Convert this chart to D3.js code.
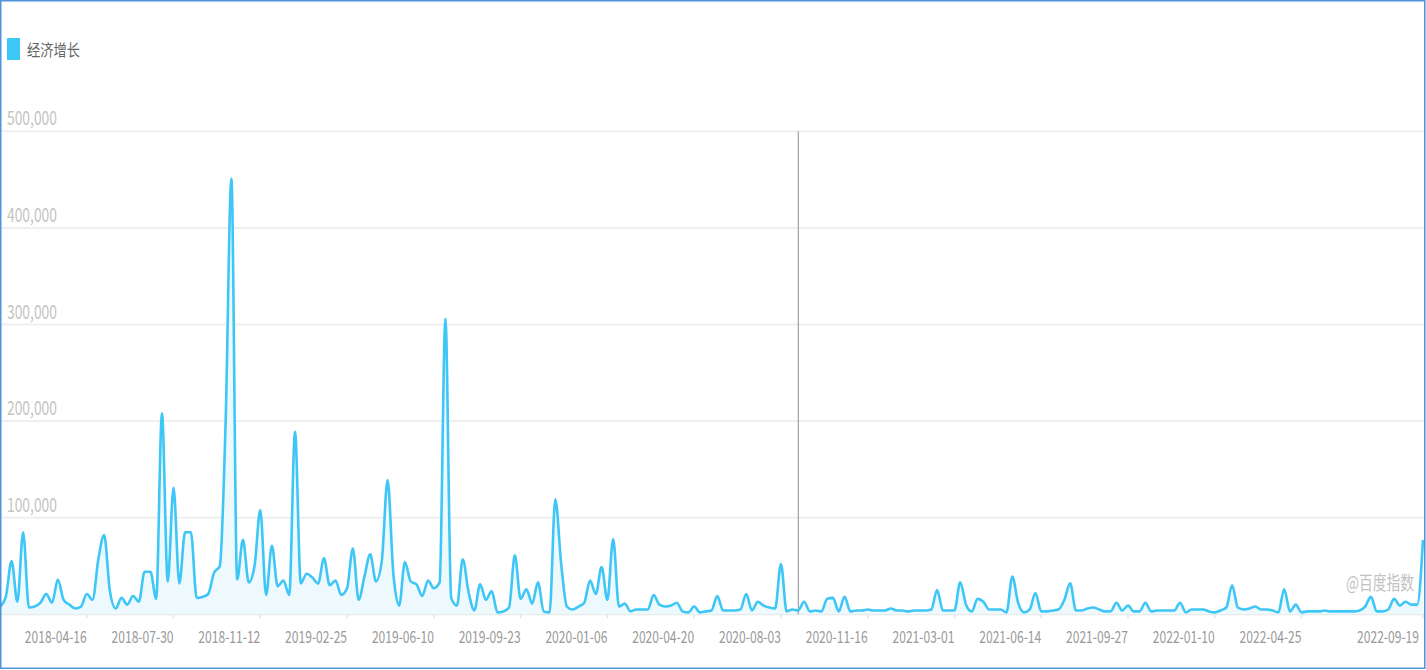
<!DOCTYPE html>
<html><head><meta charset="utf-8">
<script src="https://cdn.jsdelivr.net/npm/d3@7/dist/d3.min.js"></script>
<style>
html,body{margin:0;padding:0;background:#fff;}
svg{display:block;}
text{font-family:"Microsoft YaHei","Noto Sans CJK SC","Liberation Sans",sans-serif;}
</style></head>
<body><svg id="chart" width="1426" height="670"></svg>
<script>
const seriesName = "经济增长";
const startDate = "2018-01-01";
const endDate = "2022-09-19";
// weekly search index values (thousands), one per week from startDate
const values = [
 8,18,55,13,85,7,8,12,21,12,
 36,15,10,6,8,21,15,57,82,24,
 6,17,10,19,13,44,44,16,208,34,
 131,32,85,85,17,18,21,43,50,198,
 451,36,77,33,50,108,20,71,29,35,
 20,189,32,42,38,32,58,30,35,20,
 27,68,15,39,62,34,55,139,42,9,
 54,34,31,19,35,27,33,306,17,9,
 57,23,4,31,15,24,2,3,7,61,
 16,26,11,33,3,2,119,53,8,5,
 8,12,35,21,49,15,78,8,11,3,
 5,5,5,20,10,8,9,12,3,2,
 8,2,3,4,19,4,4,4,5,21,
 4,13,9,7,6,52,3,5,4,13,
 3,4,3,16,17,3,18,3,4,4,
 5,4,4,4,6,4,4,3,4,4,
 4,5,25,4,4,4,33,10,3,16,
 13,5,5,5,2,39,12,2,5,22,
 3,3,4,5,15,32,4,4,6,7,
 5,3,3,12,4,9,3,3,12,3,
 4,4,4,4,12,2,5,5,5,3,
 2,4,7,30,7,5,6,8,5,5,
 4,2,26,3,10,2,3,3,3,4,
 3,3,3,3,3,4,8,18,3,3,
 5,16,9,13,10,10,77
];
const xTickLabels = ["2018-04-16","2018-07-30","2018-11-12","2019-02-25","2019-06-10","2019-09-23",
 "2020-01-06","2020-04-20","2020-08-03","2020-11-16","2021-03-01","2021-06-14","2021-09-27",
 "2022-01-10","2022-04-25","2022-09-19"];
const yTickValues = [0,100000,200000,300000,400000,500000];
const hoverDate = "2020-08-24";

const parse = d3.timeParse("%Y-%m-%d");
const t0 = parse(startDate);
const data = values.map((v,i)=>({date:d3.timeDay.offset(t0, 7*i), value:v*1000}));

const svg = d3.select("#chart");
const x = d3.scaleTime().domain([t0, parse(endDate)]).range([0, 1423]);
const y = d3.scaleLinear().domain([0, 500000]).range([614.3, 131.3]);

// helper: squeeze text horizontally to a target width (anchor: start or end)
function squeeze(sel, w, anchor) {
  sel.each(function(){
    const t = d3.select(this);
    const px = +t.attr("data-x"), py = +t.attr("data-y");
    const len = this.getComputedTextLength();
    const s = w / len;
    t.attr("text-anchor", anchor).attr("transform", `translate(${px},${py}) scale(${s},1)`);
  });
}

// gridlines
svg.append("g").selectAll("line").data(yTickValues).join("line")
  .attr("x1",0).attr("x2",1424)
  .attr("y1",d=>y(d)).attr("y2",d=>y(d))
  .attr("stroke",d=>d===0?"#e6e6e6":"#efefef").attr("stroke-width",2);

// y labels
svg.append("g").selectAll("text").data(yTickValues.filter(d=>d>0)).join("text")
  .attr("data-x",7).attr("data-y",d=>y(d)-6)
  .attr("font-size",19).attr("fill","#c3c3c3")
  .text(d=>d3.format(",")(d))
  .call(squeeze, 50, "start");

// area + line
const area = d3.area().x(d=>x(d.date)).y0(y(0)).y1(d=>y(d.value)).curve(d3.curveMonotoneX);
const line = d3.line().x(d=>x(d.date)).y(d=>y(d.value)).curve(d3.curveMonotoneX);
svg.append("path").datum(data).attr("d",area).attr("fill","#eef9fe");

// hover line
svg.append("line").attr("x1",x(parse(hoverDate))).attr("x2",x(parse(hoverDate)))
  .attr("y1",y(500000)).attr("y2",y(0)).attr("stroke","#8f8f8f").attr("stroke-width",1);

svg.append("path").datum(data).attr("d",line).attr("fill","none")
  .attr("stroke","#3ec6f6").attr("stroke-width",2.6).attr("stroke-linejoin","round");

// x axis ticks & labels
const xt = xTickLabels.map(parse);
svg.append("g").selectAll("line").data(xt).join("line")
  .attr("x1",d=>x(d)).attr("x2",d=>x(d)).attr("y1",y(0)).attr("y2",y(0)+4)
  .attr("stroke","#e6e6e6").attr("stroke-width",1.5);
svg.append("g").selectAll("text").data(xTickLabels).join("text")
  .attr("data-x",d=>Math.min(x(parse(d)),1419)).attr("data-y",643)
  .attr("font-size",17).attr("fill","#9a9a9a")
  .text(d=>d)
  .call(squeeze, 62, "end");

// legend
svg.append("rect").attr("x",7).attr("y",38).attr("width",13).attr("height",22).attr("fill","#3ec8f8");
svg.append("text").attr("data-x",27).attr("data-y",56).attr("font-size",16).attr("fill","#666")
  .text(seriesName).call(squeeze, 53, "start");

// watermark
svg.append("text").attr("data-x",1346).attr("data-y",590).attr("font-size",19).attr("fill","#c2c2c2")
  .text("@百度指数").call(squeeze, 68, "start");

// frame
svg.append("rect").attr("x",0.75).attr("y",0.75).attr("width",1424).attr("height",667.5)
  .attr("fill","none").attr("stroke","#4f93dc").attr("stroke-width",1.5);
</script></body></html>
